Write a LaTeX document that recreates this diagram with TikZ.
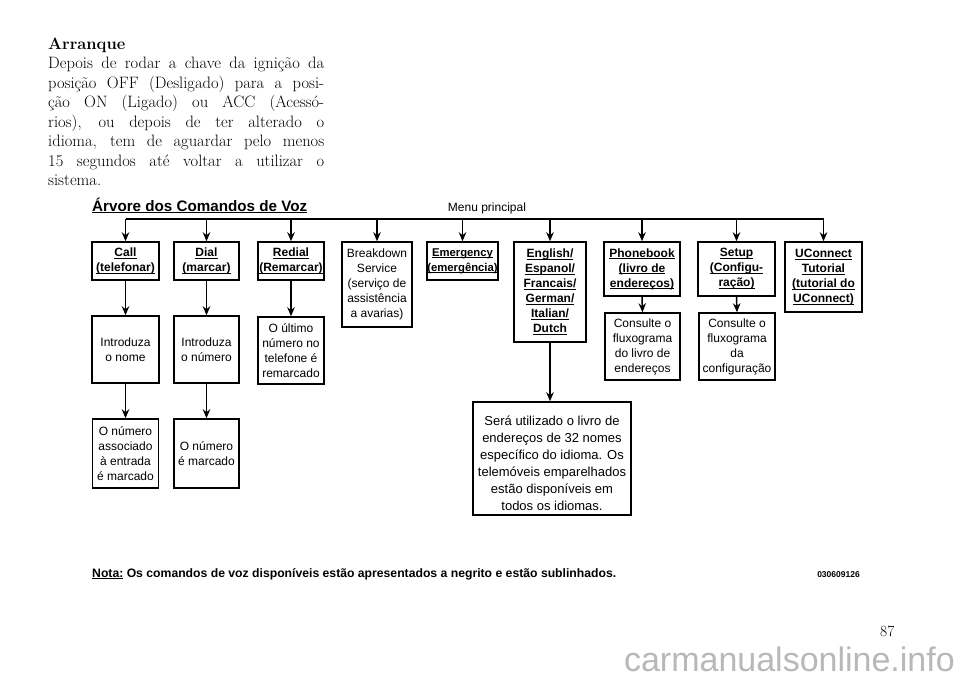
\documentclass[tikz,border=0pt]{standalone}
\usepackage{fontspec}
\setsansfont{Liberation Sans}
\usetikzlibrary{arrows.meta}
\newcommand\uln[1]{\setbox0\hbox{#1}\rlap{\rule[-2.2pt]{\wd0}{1pt}}\box0\relax}
\begin{document}
\begin{tikzpicture}[x=1pt,y=-1pt,
  box/.style={draw, line width=1.5pt, inner sep=0pt, align=center,
    font=\sffamily\fontsize{12}{15}\selectfont},
  bbox/.style={box, font=\sffamily\bfseries\fontsize{12}{15}\selectfont},
  arr/.style={line width=1.5pt, -{Stealth[length=9pt,width=7.5pt]}},
  bar/.style={line width=1.5pt},
  body/.style={anchor=base west, inner sep=0pt, font=\fontsize{16.5}{19.4}\selectfont}]
\useasboundingbox (0,0) rectangle (960,678);

% introductory text
\node[body] (t1) at (48,49) {\bfseries Arranque};
\node[body] (t2) at (48,68.5) {\makebox[276pt][s]{Depois de rodar a chave da ignição da}};
\node[body] (t3) at (48,88) {\makebox[276pt][s]{posição OFF (Desligado) para a posi-}};
\node[body] (t4) at (48,107.5) {\makebox[276pt][s]{ção ON (Ligado) ou ACC (Acessó-}};
\node[body] (t5) at (48,127) {\makebox[276pt][s]{rios), ou depois de ter alterado o}};
\node[body] (t6) at (48,146.5) {\makebox[276pt][s]{idioma, tem de aguardar pelo menos}};
\node[body] (t7) at (48,166) {\makebox[276pt][s]{15 segundos até voltar a utilizar o}};
\node[body] (t8) at (48,185.5) {sistema.};

% title
\node[anchor=base west, inner sep=0pt, font=\sffamily\bfseries\fontsize{15.2}{17}\selectfont] (title) at (92,211) {\uln{Árvore dos Comandos de Voz}};
\node[anchor=base, inner sep=0pt, font=\sffamily\fontsize{12}{14}\selectfont] (menu) at (487,211) {Menu principal};

% first row
\node[bbox, minimum width=67, minimum height=38] (call) at (125.5,261) {\uln{Call}\\\uln{(telefonar)}};
\node[bbox, minimum width=65, minimum height=38] (dial) at (206.5,261) {\uln{Dial}\\\uln{(marcar)}};
\node[bbox, minimum width=66, minimum height=38] (redial) at (291,261) {\uln{Redial}\\\uln{(Remarcar)}};
\node[box, minimum width=70, minimum height=85] (brk) at (377,284.5) {Breakdown\\Service\\(serviço de\\assistência\\a avarias)};
\node[bbox, minimum width=71, minimum height=38, font=\sffamily\bfseries\fontsize{11.3}{15}\selectfont] (emer) at (462.5,261) {\uln{Emergency}\\\uln{(emergência)}};
\node[bbox, minimum width=72, minimum height=100] (eng) at (550,292) {\uln{English/}\\\uln{Espanol/}\\\uln{Francais/}\\\uln{German/}\\\uln{Italian/}\\\uln{Dutch}};
\node[bbox, minimum width=76, minimum height=54] (phone) at (642,269) {\uln{Phonebook}\\\uln{(livro de}\\\uln{endereços)}};
\node[bbox, minimum width=77, minimum height=54] (setup) at (736.5,269) {\uln{Setup}\\\uln{(Configu-}\\\uln{ração)}};
\node[bbox, minimum width=77, minimum height=70] (ucon) at (823.5,277) {\uln{UConnect}\\\uln{Tutorial}\\\uln{(tutorial do}\\\uln{UConnect)}};

% second row
\node[box, minimum width=67, minimum height=67] (intro1) at (125.5,349.5) {Introduza\\o nome};
\node[box, minimum width=65, minimum height=67] (intro2) at (206.5,349.5) {Introduza\\o número};
\node[box, minimum width=66, minimum height=67] (ultimo) at (291,350.5) {O último\\número no\\telefone é\\remarcado};
\node[box, minimum width=75, minimum height=67] (cons1) at (642.5,346.5) {Consulte o\\fluxograma\\do livro de\\endereços};
\node[box, minimum width=76, minimum height=67] (cons2) at (737,346.5) {Consulte o\\fluxograma\\da\\configuração};

% third row
\node[box, minimum width=66, minimum height=69] (assoc) at (125.5,453.5) {O número\\associado\\à entrada\\é marcado};
\node[box, minimum width=65, minimum height=69] (marc) at (206.5,453.5) {O número\\é marcado};
\node[box, minimum width=158, minimum height=113] (sera) at (552,458.5) {};
\node[inner sep=0pt, align=center, font=\sffamily\fontsize{13}{17}\selectfont] (seratxt) at (552,463.5) {Será utilizado o livro de\\endereços de 32 nomes\\específico do idioma. Os\\telemóveis emparelhados\\estão disponíveis em\\todos os idiomas.};

% connectors
\coordinate (mbar) at (0,219);
\draw[bar] (mbar -| call.north) -- (mbar -| ucon.north);
\foreach \n in {call,dial,redial,brk,emer,eng,phone,setup,ucon}
  \draw[arr] (mbar -| \n.north) -- (\n.north);
\draw[arr] (call.south) -- (intro1.north);
\draw[arr] (dial.south) -- (intro2.north);
\draw[arr] (redial.south) -- (ultimo.north);
\draw[arr] (intro1.south) -- (assoc.north);
\draw[arr] (intro2.south) -- (marc.north);
\draw[arr] (phone.south) -- (cons1.north);
\draw[arr] (setup.south) -- (cons2.north);
\draw[arr] (eng.south) -- (eng.south |- sera.north);

% note
\node[anchor=base west, inner sep=0pt, font=\sffamily\bfseries\fontsize{12.2}{14}\selectfont] (nota) at (92,577) {\uln{Nota:} Os comandos de voz disponíveis estão apresentados a negrito e estão sublinhados.};
\node[anchor=base east, inner sep=0pt, font=\sffamily\bfseries\fontsize{8.5}{10}\selectfont] (code) at (860,577) {030609126};

% page number and watermark
\node[anchor=base west, inner sep=0pt, font=\fontsize{15.5}{18}\selectfont] (page) at (880,636) {87};
\node[anchor=base east, inner sep=0pt, text=black!28, font=\sffamily\fontsize{34}{36}\selectfont] (wm) at (955,671) {carmanualsonline.info};
\end{tikzpicture}
\end{document}
